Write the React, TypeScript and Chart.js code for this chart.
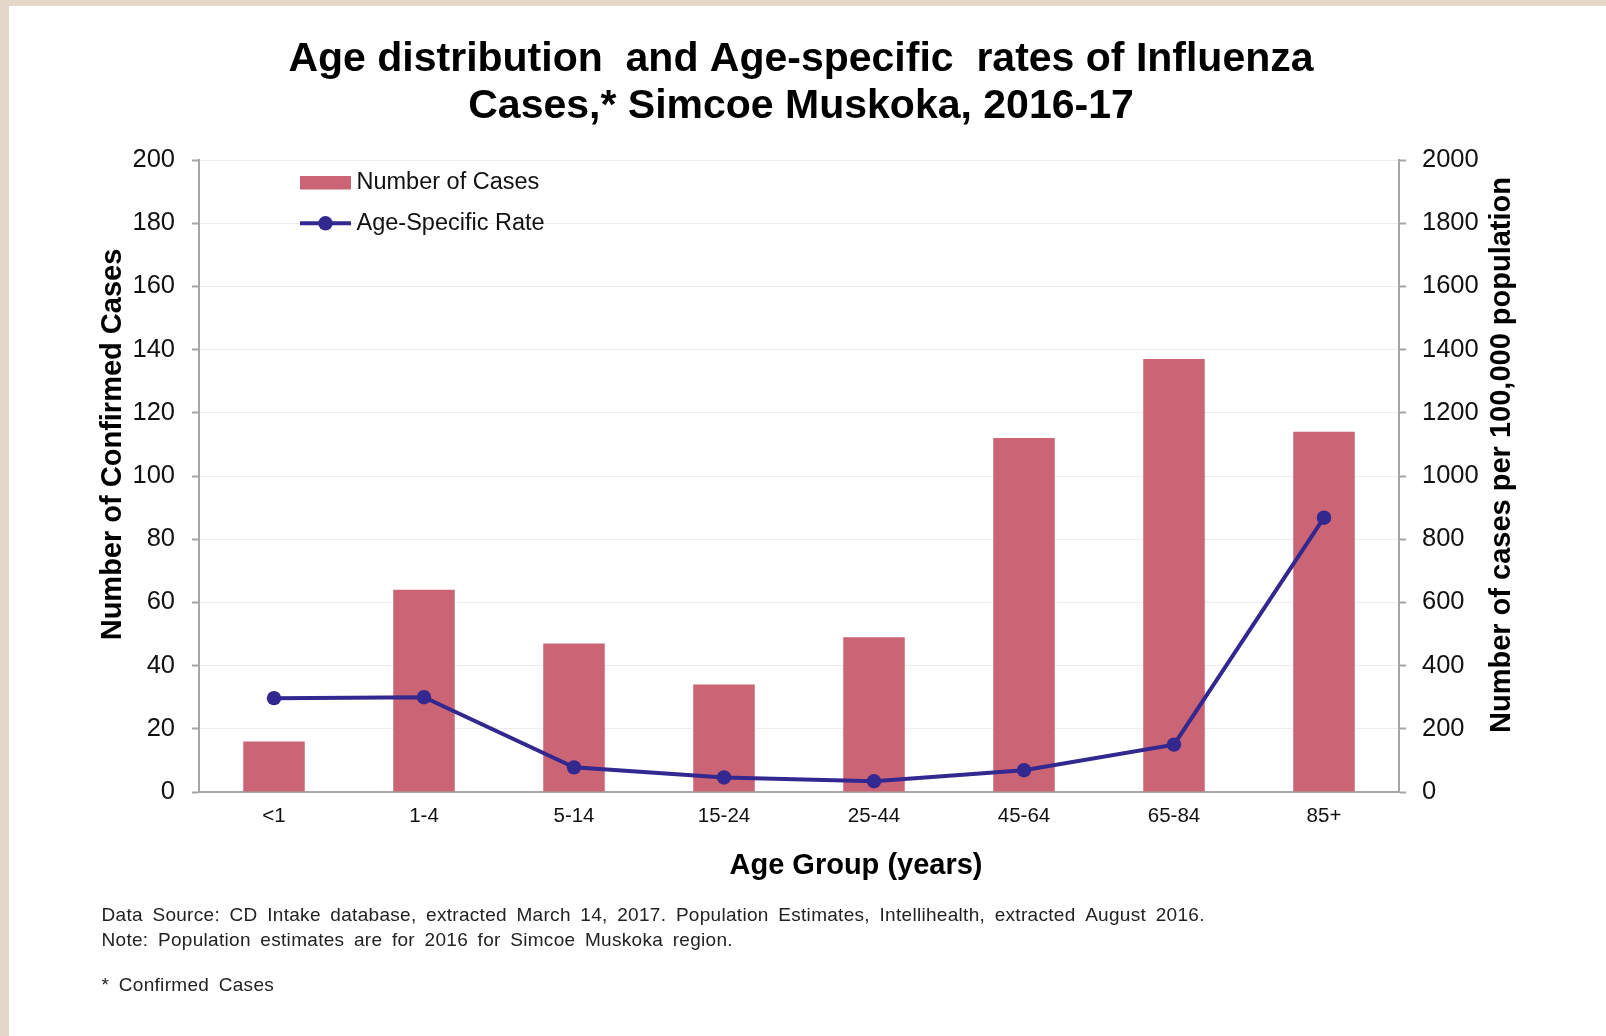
import React, { useEffect, useRef } from 'react';
import { Chart, registerables } from 'chart.js';

Chart.register(...registerables);

const categories = ['<1', '1-4', '5-14', '15-24', '25-44', '45-64', '65-84', '85+'];
const numberOfCases = [16, 64, 47, 34, 49, 112, 137, 114];
const ageSpecificRate = [297, 300, 78, 46, 34, 69, 150, 868];
const leftTickValues = [0, 20, 40, 60, 80, 100, 120, 140, 160, 180, 200];
const rightTickValues = [0, 200, 400, 600, 800, 1000, 1200, 1400, 1600, 1800, 2000];
const titleLines = ['Age distribution  and Age-specific  rates of Influenza', 'Cases,* Simcoe Muskoka, 2016-17'];
const leftAxisTitle = 'Number of Confirmed Cases';
const rightAxisTitle = 'Number of cases per 100,000 population';
const xAxisTitle = 'Age Group (years)';
const legendLabels = ['Number of Cases', 'Age-Specific Rate'];
const footnotes = [
  'Data Source: CD Intake database, extracted March 14, 2017. Population Estimates, Intellihealth, extracted August 2016.',
  'Note: Population estimates are for 2016 for Simcoe Muskoka region.',
  '* Confirmed Cases',
];

const FONT = '"Liberation Sans", Arial, sans-serif';
const BAR_COLOR = '#cb6474';
const LINE_COLOR = '#33288f';
const AXIS_COLOR = '#a6a6a6';

const decorPlugin = {
  id: 'decor',
  beforeDraw(chart: any) {
    const { ctx, width, height } = chart;
    ctx.save();
    ctx.fillStyle = '#e4d8cb';
    ctx.fillRect(0, 0, width, height);
    ctx.fillStyle = '#ffffff';
    ctx.fillRect(9, 6, width - 9, height - 6);
    ctx.restore();
  },
  afterDraw(chart: any) {
    const { ctx } = chart;
    ctx.save();
    // Title
    ctx.fillStyle = '#000';
    ctx.textAlign = 'center';
    ctx.textBaseline = 'middle';
    ctx.font = `bold 41px ${FONT}`;
    titleLines.forEach((t, i) => ctx.fillText(t, 801, 59.5 + i * 47));

    // Axis titles
    ctx.font = `bold 29px ${FONT}`;
    ctx.save();
    ctx.translate(113, 444.5);
    ctx.rotate(-Math.PI / 2);
    ctx.fillText(leftAxisTitle, 0, 0);
    ctx.restore();
    ctx.save();
    ctx.translate(1501.5, 455);
    ctx.rotate(-Math.PI / 2);
    ctx.fillText(rightAxisTitle, 0, 0);
    ctx.restore();
    ctx.fillText(xAxisTitle, 856, 865.5);

    // Legend
    const lx = 300;
    ctx.fillStyle = BAR_COLOR;
    ctx.fillRect(lx, 176, 51, 13.5);
    ctx.strokeStyle = LINE_COLOR;
    ctx.lineWidth = 4;
    ctx.beginPath();
    ctx.moveTo(lx, 223.3);
    ctx.lineTo(lx + 51, 223.3);
    ctx.stroke();
    ctx.fillStyle = LINE_COLOR;
    ctx.beginPath();
    ctx.arc(lx + 25.5, 223.3, 7.2, 0, Math.PI * 2);
    ctx.fill();
    ctx.fillStyle = '#111';
    ctx.textAlign = 'left';
    ctx.font = `23.5px ${FONT}`;
    ctx.fillText(legendLabels[0], 356.5, 183);
    ctx.fillText(legendLabels[1], 356.5, 223.3);

    // Footnotes
    ctx.font = `19px ${FONT}`;
    ctx.fillStyle = '#222';
    try {
      (ctx as any).letterSpacing = '0.3px';
      (ctx as any).wordSpacing = '4px';
    } catch (e) {}
    const ys = [916, 940.5, 986];
    footnotes.forEach((f, i) => ctx.fillText(f, 101.5, ys[i]));
    ctx.restore();
  },
};

export default function App() {
  const canvasRef = useRef<HTMLCanvasElement | null>(null);

  useEffect(() => {
    if (!canvasRef.current) return;
    const chart = new Chart(canvasRef.current, {
      type: 'bar',
      data: {
        labels: categories,
        datasets: [
          {
            type: 'line',
            label: legendLabels[1],
            data: ageSpecificRate,
            yAxisID: 'y1',
            borderColor: LINE_COLOR,
            backgroundColor: LINE_COLOR,
            borderWidth: 4,
            pointRadius: 7.2,
            pointBackgroundColor: LINE_COLOR,
            pointBorderWidth: 0,
            tension: 0,
            order: 0,
          } as any,
          {
            type: 'bar',
            label: legendLabels[0],
            data: numberOfCases,
            yAxisID: 'y',
            backgroundColor: BAR_COLOR,
            barPercentage: 0.41,
            categoryPercentage: 1,
            order: 1,
          },
        ],
      },
      options: {
        responsive: true,
        maintainAspectRatio: false,
        animation: false,
        layout: { padding: { left: 88, right: 77, top: 160, bottom: 144 } },
        plugins: {
          legend: { display: false },
          title: { display: false },
          tooltip: { enabled: false },
        },
        scales: {
          x: {
            grid: { display: false },
            border: { color: AXIS_COLOR, width: 2 },
            ticks: { color: '#111', font: { family: FONT, size: 20.5 }, padding: 4 },
            afterFit: (s: any) => { s.height = 100; },
          },
          y: {
            position: 'left',
            min: 0,
            max: 200,
            afterBuildTicks: (s: any) => { s.ticks = leftTickValues.map((v) => ({ value: v })); },
            grid: { color: '#ececec', lineWidth: 1, tickColor: AXIS_COLOR, tickLength: 7, tickWidth: 2 },
            border: { color: AXIS_COLOR, width: 2 },
            ticks: { color: '#111', font: { family: FONT, size: 25.5 }, padding: 17, callback: (v: any) => String(v) },
            afterFit: (s: any) => { s.width = 111; },
          },
          y1: {
            position: 'right',
            min: 0,
            max: 2000,
            afterBuildTicks: (s: any) => { s.ticks = rightTickValues.map((v) => ({ value: v })); },
            grid: { drawOnChartArea: false, tickColor: AXIS_COLOR, tickLength: 7, tickWidth: 2 },
            border: { color: AXIS_COLOR, width: 2 },
            ticks: { color: '#111', font: { family: FONT, size: 25.5 }, padding: 16, callback: (v: any) => String(v) },
            afterFit: (s: any) => { s.width = 130; },
          },
        },
      },
      plugins: [decorPlugin],
    });
    return () => chart.destroy();
  }, []);

  return (
    <div style={{ position: 'absolute', left: 0, top: 0, width: 1606, height: 1036 }}>
      <canvas ref={canvasRef} />
    </div>
  );
}
